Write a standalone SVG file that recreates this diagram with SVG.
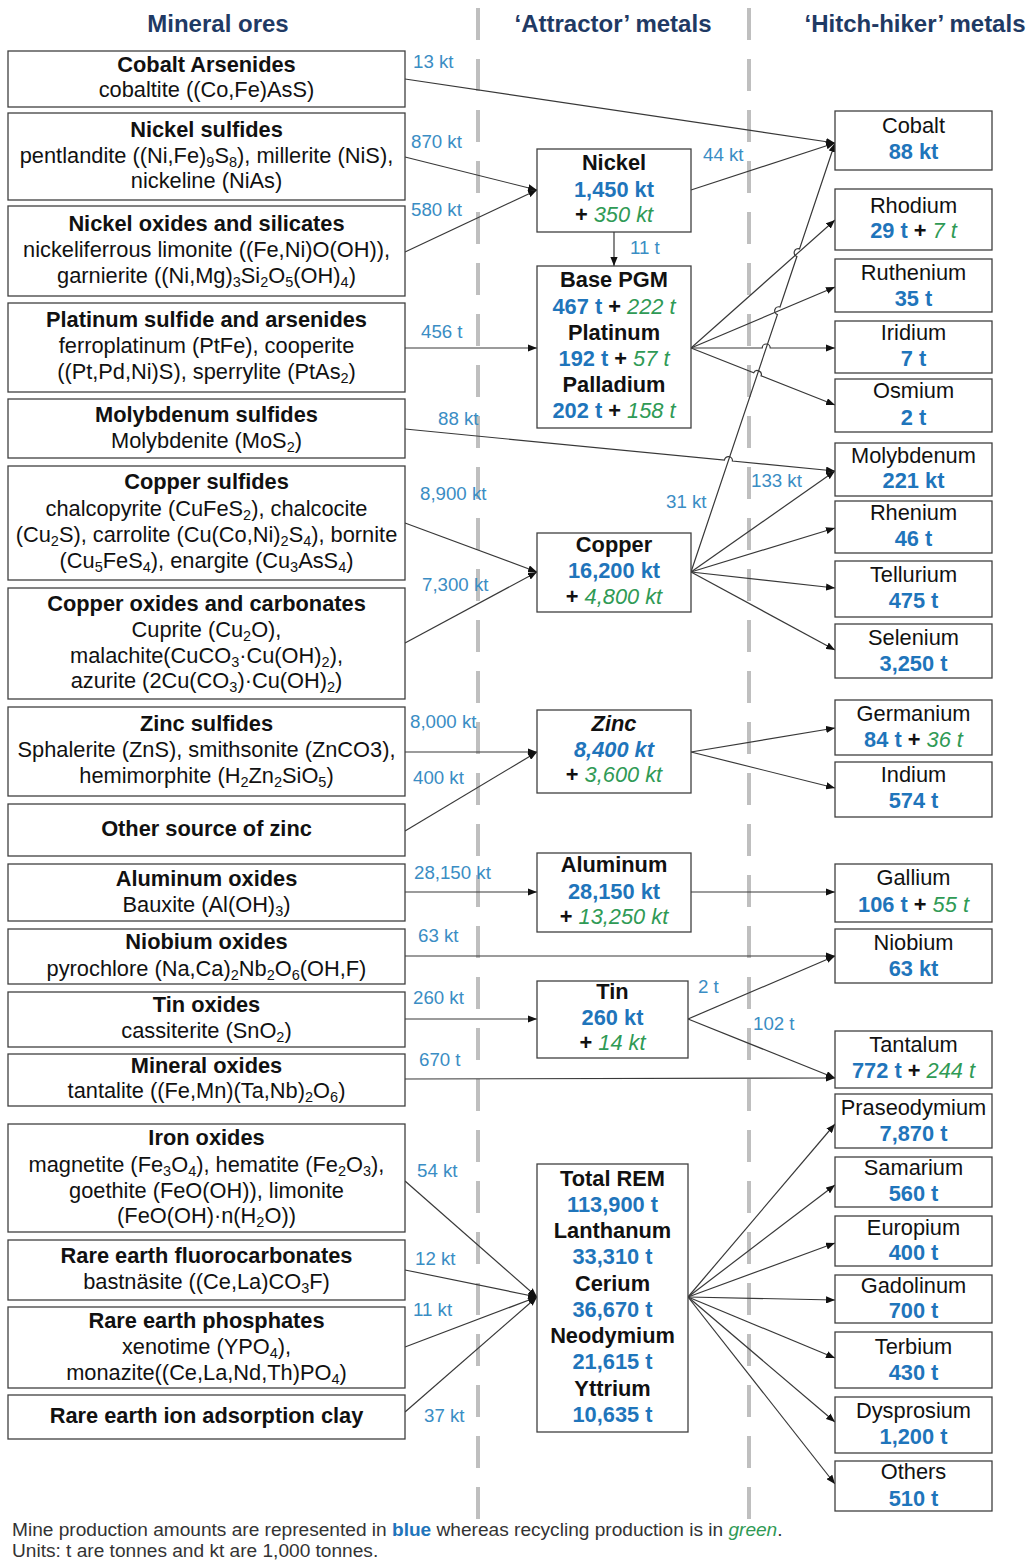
<svg xmlns="http://www.w3.org/2000/svg" width="1032" height="1561" viewBox="0 0 1032 1561">
<style>
text{font-family:"Liberation Sans",Arial,sans-serif}
.hd{font-size:24px;font-weight:bold;fill:#1f3a64;text-anchor:middle}
.box{fill:#fff;stroke:#404040;stroke-width:1.3}
.t{font-size:21.8px;text-anchor:middle;fill:#111}
.b{font-weight:bold}
.bi{font-weight:bold;font-style:italic}
.bl{font-weight:bold;fill:#1f75bb}
.gr{font-style:italic;font-weight:normal;fill:#2f9a55}
.s{font-size:14.5px;baseline-shift:-4px}
.lbl{font-size:18.7px;fill:#3a8dc4}
.dash{stroke:#bfbfbf;stroke-width:4;stroke-dasharray:32 19}
.c{fill:none;stroke:#383838;stroke-width:1.2;marker-end:url(#ah)}
.ft{font-size:19.1px;fill:#333}
</style>
<defs>
<marker id="ah" viewBox="0 0 10 8" refX="10" refY="4" markerWidth="9" markerHeight="7.2" markerUnits="userSpaceOnUse" orient="auto"><path d="M0,0 L10,4 L0,8 z" fill="#111"/></marker>
</defs>
<rect width="1032" height="1561" fill="#fff"/>
<g id="dividers">
<line class="dash" x1="478" y1="8" x2="478" y2="1519"/>
<line class="dash" x1="749" y1="8" x2="749" y2="1519"/>
</g>
<g id="headers">
<text class="hd" x="218" y="32">Mineral ores</text>
<text class="hd" x="613" y="32">‘Attractor’ metals</text>
<text class="hd" x="915" y="32">‘Hitch-hiker’ metals</text>
</g>
<g id="connectors">
<path class="c" d="M405,79 L835,143"/>
<path class="c" d="M405,157 L537,190"/>
<path class="c" d="M405,252 L537,190"/>
<path class="c" d="M691,190 L835,143"/>
<path class="c" d="M614,232 L614,266"/>
<path class="c" d="M405,348 L537,348"/>
<path class="c" d="M691,348 L835,220"/>
<path class="c" d="M691,348 L835,287"/>
<path class="c" d="M691,348 L762.2,348 A4,4 0 0 1 770.2,348 L835,348"/>
<path class="c" d="M691,348 L753.7,372.8 A4,4 0 0 1 761.1,375.8 L835,405"/>
<path class="c" d="M405,429 L724.4,460.2 A4,4 0 0 1 732.4,461 L835,471"/>
<path class="c" d="M405,523 L537,572"/>
<path class="c" d="M405,643 L537,572"/>
<path class="c" d="M691,572 L777.4,314.6 A4,4 0 0 1 780,307 L796.9,256.5 A4,4 0 0 1 799.5,248.9 L835,143"/>
<path class="c" d="M691,572 L835,471"/>
<path class="c" d="M691,572 L835,528"/>
<path class="c" d="M691,572 L835,588"/>
<path class="c" d="M691,572 L835,650"/>
<path class="c" d="M405,752 L537,752"/>
<path class="c" d="M405,831 L537,752"/>
<path class="c" d="M691,752 L835,728"/>
<path class="c" d="M691,752 L835,788"/>
<path class="c" d="M405,892 L537,892"/>
<path class="c" d="M691,892 L835,892"/>
<path class="c" d="M405,956 L835,956"/>
<path class="c" d="M405,1019 L537,1019"/>
<path class="c" d="M688,1019 L835,956"/>
<path class="c" d="M688,1019 L835,1078"/>
<path class="c" d="M405,1079 L835,1078"/>
<path class="c" d="M405,1181 L537,1297"/>
<path class="c" d="M405,1270 L537,1297"/>
<path class="c" d="M405,1347 L537,1297"/>
<path class="c" d="M405,1412 L537,1297"/>
<path class="c" d="M688,1297 L835,1124"/>
<path class="c" d="M688,1297 L835,1185"/>
<path class="c" d="M688,1297 L835,1243"/>
<path class="c" d="M688,1297 L835,1300"/>
<path class="c" d="M688,1297 L835,1358"/>
<path class="c" d="M688,1297 L835,1422"/>
<path class="c" d="M688,1297 L835,1484"/>
</g>
<g id="connector-labels">
<text class="lbl" x="413" y="68">13 kt</text>
<text class="lbl" x="411" y="148">870 kt</text>
<text class="lbl" x="411" y="216">580 kt</text>
<text class="lbl" x="703" y="161">44 kt</text>
<text class="lbl" x="630" y="254">11 t</text>
<text class="lbl" x="421" y="338">456 t</text>
<text class="lbl" x="438" y="425">88 kt</text>
<text class="lbl" x="420" y="500">8,900 kt</text>
<text class="lbl" x="422" y="591">7,300 kt</text>
<text class="lbl" x="666" y="508">31 kt</text>
<text class="lbl" x="751" y="487">133 kt</text>
<text class="lbl" x="410" y="728">8,000 kt</text>
<text class="lbl" x="413" y="784">400 kt</text>
<text class="lbl" x="414" y="879">28,150 kt</text>
<text class="lbl" x="418" y="942">63 kt</text>
<text class="lbl" x="413" y="1004">260 kt</text>
<text class="lbl" x="419" y="1066">670 t</text>
<text class="lbl" x="698" y="993">2 t</text>
<text class="lbl" x="753" y="1030">102 t</text>
<text class="lbl" x="417" y="1177">54 kt</text>
<text class="lbl" x="415" y="1265">12 kt</text>
<text class="lbl" x="413" y="1316">11 kt</text>
<text class="lbl" x="424" y="1422">37 kt</text>
</g>
<g id="ore-cobalt-arsenides"><rect class="box" x="8" y="51" width="397" height="56"/>
<text class="t b" x="206.5" y="72">Cobalt Arsenides</text>
<text class="t" x="206.5" y="97">cobaltite ((Co,Fe)AsS)</text></g>
<g id="ore-nickel-sulfides"><rect class="box" x="8" y="113" width="397" height="87"/>
<text class="t b" x="206.5" y="137">Nickel sulfides</text>
<text class="t" x="206.5" y="163">pentlandite ((Ni,Fe)<tspan class="s">9</tspan>S<tspan class="s">8</tspan>), millerite (NiS),</text>
<text class="t" x="206.5" y="188">nickeline (NiAs)</text></g>
<g id="ore-nickel-oxides"><rect class="box" x="8" y="206" width="397" height="90"/>
<text class="t b" x="206.5" y="231">Nickel oxides and silicates</text>
<text class="t" x="206.5" y="257">nickeliferrous limonite ((Fe,Ni)O(OH)),</text>
<text class="t" x="206.5" y="283">garnierite ((Ni,Mg)<tspan class="s">3</tspan>Si<tspan class="s">2</tspan>O<tspan class="s">5</tspan>(OH)<tspan class="s">4</tspan>)</text></g>
<g id="ore-platinum"><rect class="box" x="8" y="303" width="397" height="89"/>
<text class="t b" x="206.5" y="327">Platinum sulfide and arsenides</text>
<text class="t" x="206.5" y="353">ferroplatinum (PtFe), cooperite</text>
<text class="t" x="206.5" y="379">((Pt,Pd,Ni)S), sperrylite (PtAs<tspan class="s">2</tspan>)</text></g>
<g id="ore-molybdenum"><rect class="box" x="8" y="399" width="397" height="59"/>
<text class="t b" x="206.5" y="422">Molybdenum sulfides</text>
<text class="t" x="206.5" y="448">Molybdenite (MoS<tspan class="s">2</tspan>)</text></g>
<g id="ore-copper-sulfides"><rect class="box" x="8" y="466" width="397" height="114"/>
<text class="t b" x="206.5" y="489">Copper sulfides</text>
<text class="t" x="206.5" y="516">chalcopyrite (CuFeS<tspan class="s">2</tspan>), chalcocite</text>
<text class="t" x="206.5" y="542">(Cu<tspan class="s">2</tspan>S), carrolite (Cu(Co,Ni)<tspan class="s">2</tspan>S<tspan class="s">4</tspan>), bornite</text>
<text class="t" x="206.5" y="568">(Cu<tspan class="s">5</tspan>FeS<tspan class="s">4</tspan>), enargite (Cu<tspan class="s">3</tspan>AsS<tspan class="s">4</tspan>)</text></g>
<g id="ore-copper-oxides"><rect class="box" x="8" y="588" width="397" height="111"/>
<text class="t b" x="206.5" y="611">Copper oxides and carbonates</text>
<text class="t" x="206.5" y="637">Cuprite (Cu<tspan class="s">2</tspan>O),</text>
<text class="t" x="206.5" y="663">malachite(CuCO<tspan class="s">3</tspan>·Cu(OH)<tspan class="s">2</tspan>),</text>
<text class="t" x="206.5" y="688">azurite (2Cu(CO<tspan class="s">3</tspan>)·Cu(OH)<tspan class="s">2</tspan>)</text></g>
<g id="ore-zinc-sulfides"><rect class="box" x="8" y="707" width="397" height="89"/>
<text class="t b" x="206.5" y="731">Zinc sulfides</text>
<text class="t" x="206.5" y="757">Sphalerite (ZnS), smithsonite (ZnCO3),</text>
<text class="t" x="206.5" y="783">hemimorphite (H<tspan class="s">2</tspan>Zn<tspan class="s">2</tspan>SiO<tspan class="s">5</tspan>)</text></g>
<g id="ore-other-zinc"><rect class="box" x="8" y="804" width="397" height="52"/>
<text class="t b" x="206.5" y="836">Other source of zinc</text></g>
<g id="ore-aluminum"><rect class="box" x="8" y="864" width="397" height="57"/>
<text class="t b" x="206.5" y="886">Aluminum oxides</text>
<text class="t" x="206.5" y="912">Bauxite (Al(OH)<tspan class="s">3</tspan>)</text></g>
<g id="ore-niobium"><rect class="box" x="8" y="929" width="397" height="55"/>
<text class="t b" x="206.5" y="949">Niobium oxides</text>
<text class="t" x="206.5" y="976">pyrochlore (Na,Ca)<tspan class="s">2</tspan>Nb<tspan class="s">2</tspan>O<tspan class="s">6</tspan>(OH,F)</text></g>
<g id="ore-tin"><rect class="box" x="8" y="992" width="397" height="55"/>
<text class="t b" x="206.5" y="1012">Tin oxides</text>
<text class="t" x="206.5" y="1038">cassiterite (SnO<tspan class="s">2</tspan>)</text></g>
<g id="ore-mineral-oxides"><rect class="box" x="8" y="1054" width="397" height="52"/>
<text class="t b" x="206.5" y="1073">Mineral oxides</text>
<text class="t" x="206.5" y="1098">tantalite ((Fe,Mn)(Ta,Nb)<tspan class="s">2</tspan>O<tspan class="s">6</tspan>)</text></g>
<g id="ore-iron"><rect class="box" x="8" y="1124" width="397" height="108"/>
<text class="t b" x="206.5" y="1145">Iron oxides</text>
<text class="t" x="206.5" y="1172">magnetite (Fe<tspan class="s">3</tspan>O<tspan class="s">4</tspan>), hematite (Fe<tspan class="s">2</tspan>O<tspan class="s">3</tspan>),</text>
<text class="t" x="206.5" y="1198">goethite (FeO(OH)), limonite</text>
<text class="t" x="206.5" y="1223">(FeO(OH)·n(H<tspan class="s">2</tspan>O))</text></g>
<g id="ore-re-fluoro"><rect class="box" x="8" y="1240" width="397" height="60"/>
<text class="t b" x="206.5" y="1263">Rare earth fluorocarbonates</text>
<text class="t" x="206.5" y="1289">bastnäsite ((Ce,La)CO<tspan class="s">3</tspan>F)</text></g>
<g id="ore-re-phosphates"><rect class="box" x="8" y="1307" width="397" height="81"/>
<text class="t b" x="206.5" y="1328">Rare earth phosphates</text>
<text class="t" x="206.5" y="1354">xenotime (YPO<tspan class="s">4</tspan>),</text>
<text class="t" x="206.5" y="1380">monazite((Ce,La,Nd,Th)PO<tspan class="s">4</tspan>)</text></g>
<g id="ore-re-clay"><rect class="box" x="8" y="1395" width="397" height="44"/>
<text class="t b" x="206.5" y="1423">Rare earth ion adsorption clay</text></g>
<g id="att-nickel"><rect class="box" x="537" y="149" width="154" height="83"/>
<text class="t b" x="614" y="170">Nickel</text>
<text class="t bl" x="614" y="197">1,450 kt</text>
<text class="t" x="614" y="222"><tspan class="b">+ </tspan><tspan class="gr">350 kt</tspan></text></g>
<g id="att-pgm"><rect class="box" x="537" y="266" width="154" height="162"/>
<text class="t b" x="614" y="287">Base PGM</text>
<text class="t" x="614" y="314"><tspan class="bl">467 t</tspan><tspan class="b"> + </tspan><tspan class="gr">222 t</tspan></text>
<text class="t b" x="614" y="340">Platinum</text>
<text class="t" x="614" y="366"><tspan class="bl">192 t</tspan><tspan class="b"> + </tspan><tspan class="gr">57 t</tspan></text>
<text class="t b" x="614" y="392">Palladium</text>
<text class="t" x="614" y="418"><tspan class="bl">202 t</tspan><tspan class="b"> + </tspan><tspan class="gr">158 t</tspan></text></g>
<g id="att-copper"><rect class="box" x="537" y="533" width="154" height="79"/>
<text class="t b" x="614" y="552">Copper</text>
<text class="t bl" x="614" y="578">16,200 kt</text>
<text class="t" x="614" y="604"><tspan class="b">+ </tspan><tspan class="gr">4,800 kt</tspan></text></g>
<g id="att-zinc"><rect class="box" x="537" y="710" width="154" height="83"/>
<text class="t bi" x="614" y="731">Zinc</text>
<text class="t bl bi" x="614" y="757">8,400 kt</text>
<text class="t" x="614" y="782"><tspan class="b">+ </tspan><tspan class="gr">3,600 kt</tspan></text></g>
<g id="att-aluminum"><rect class="box" x="537" y="853" width="154" height="79"/>
<text class="t b" x="614" y="872">Aluminum</text>
<text class="t bl" x="614" y="899">28,150 kt</text>
<text class="t" x="614" y="924"><tspan class="b">+ </tspan><tspan class="gr">13,250 kt</tspan></text></g>
<g id="att-tin"><rect class="box" x="537" y="981" width="151" height="77"/>
<text class="t b" x="612.5" y="999">Tin</text>
<text class="t bl" x="612.5" y="1025">260 kt</text>
<text class="t" x="612.5" y="1050"><tspan class="b">+ </tspan><tspan class="gr">14 kt</tspan></text></g>
<g id="att-rem"><rect class="box" x="537" y="1164" width="151" height="268"/>
<text class="t b" x="612.5" y="1186">Total REM</text>
<text class="t bl" x="612.5" y="1212">113,900 t</text>
<text class="t b" x="612.5" y="1238">Lanthanum</text>
<text class="t bl" x="612.5" y="1264">33,310 t</text>
<text class="t b" x="612.5" y="1291">Cerium</text>
<text class="t bl" x="612.5" y="1317">36,670 t</text>
<text class="t b" x="612.5" y="1343">Neodymium</text>
<text class="t bl" x="612.5" y="1369">21,615 t</text>
<text class="t b" x="612.5" y="1396">Yttrium</text>
<text class="t bl" x="612.5" y="1422">10,635 t</text></g>
<g id="hh-cobalt"><rect class="box" x="835" y="111" width="157" height="59"/>
<text class="t" x="913.5" y="133">Cobalt</text><text class="t bl" x="913.5" y="159">88 kt</text></g>
<g id="hh-rhodium"><rect class="box" x="835" y="189" width="157" height="61"/>
<text class="t" x="913.5" y="213">Rhodium</text>
<text class="t" x="913.5" y="238"><tspan class="bl">29 t</tspan><tspan class="b"> + </tspan><tspan class="gr">7 t</tspan></text></g>
<g id="hh-ruthenium"><rect class="box" x="835" y="259" width="157" height="53"/>
<text class="t" x="913.5" y="280">Ruthenium</text><text class="t bl" x="913.5" y="306">35 t</text></g>
<g id="hh-iridium"><rect class="box" x="835" y="321" width="157" height="52"/>
<text class="t" x="913.5" y="340">Iridium</text><text class="t bl" x="913.5" y="366">7 t</text></g>
<g id="hh-osmium"><rect class="box" x="835" y="379" width="157" height="53"/>
<text class="t" x="913.5" y="398">Osmium</text><text class="t bl" x="913.5" y="425">2 t</text></g>
<g id="hh-molybdenum"><rect class="box" x="835" y="443" width="157" height="53"/>
<text class="t" x="913.5" y="463">Molybdenum</text><text class="t bl" x="913.5" y="488">221 kt</text></g>
<g id="hh-rhenium"><rect class="box" x="835" y="501" width="157" height="52"/>
<text class="t" x="913.5" y="520">Rhenium</text><text class="t bl" x="913.5" y="546">46 t</text></g>
<g id="hh-tellurium"><rect class="box" x="835" y="561" width="157" height="56"/>
<text class="t" x="913.5" y="582">Tellurium</text><text class="t bl" x="913.5" y="608">475 t</text></g>
<g id="hh-selenium"><rect class="box" x="835" y="624" width="157" height="54"/>
<text class="t" x="913.5" y="645">Selenium</text><text class="t bl" x="913.5" y="671">3,250 t</text></g>
<g id="hh-germanium"><rect class="box" x="835" y="700" width="157" height="55"/>
<text class="t" x="913.5" y="721">Germanium</text>
<text class="t" x="913.5" y="747"><tspan class="bl">84 t</tspan><tspan class="b"> + </tspan><tspan class="gr">36 t</tspan></text></g>
<g id="hh-indium"><rect class="box" x="835" y="762" width="157" height="55"/>
<text class="t" x="913.5" y="782">Indium</text><text class="t bl" x="913.5" y="808">574 t</text></g>
<g id="hh-gallium"><rect class="box" x="835" y="864" width="157" height="58"/>
<text class="t" x="913.5" y="885">Gallium</text>
<text class="t" x="913.5" y="912"><tspan class="bl">106 t</tspan><tspan class="b"> + </tspan><tspan class="gr">55 t</tspan></text></g>
<g id="hh-niobium"><rect class="box" x="835" y="929" width="157" height="54"/>
<text class="t" x="913.5" y="950">Niobium</text><text class="t bl" x="913.5" y="976">63 kt</text></g>
<g id="hh-tantalum"><rect class="box" x="835" y="1031" width="157" height="57"/>
<text class="t" x="913.5" y="1052">Tantalum</text>
<text class="t" x="913.5" y="1078"><tspan class="bl">772 t</tspan><tspan class="b"> + </tspan><tspan class="gr">244 t</tspan></text></g>
<g id="hh-praseodymium"><rect class="box" x="835" y="1094" width="157" height="54"/>
<text class="t" x="913.5" y="1115">Praseodymium</text><text class="t bl" x="913.5" y="1141">7,870 t</text></g>
<g id="hh-samarium"><rect class="box" x="835" y="1157" width="157" height="50"/>
<text class="t" x="913.5" y="1175">Samarium</text><text class="t bl" x="913.5" y="1201">560 t</text></g>
<g id="hh-europium"><rect class="box" x="835" y="1216" width="157" height="50"/>
<text class="t" x="913.5" y="1235">Europium</text><text class="t bl" x="913.5" y="1260">400 t</text></g>
<g id="hh-gadolinum"><rect class="box" x="835" y="1275" width="157" height="48"/>
<text class="t" x="913.5" y="1293">Gadolinum</text><text class="t bl" x="913.5" y="1318">700 t</text></g>
<g id="hh-terbium"><rect class="box" x="835" y="1332" width="157" height="56"/>
<text class="t" x="913.5" y="1354">Terbium</text><text class="t bl" x="913.5" y="1380">430 t</text></g>
<g id="hh-dysprosium"><rect class="box" x="835" y="1397" width="157" height="56"/>
<text class="t" x="913.5" y="1418">Dysprosium</text><text class="t bl" x="913.5" y="1444">1,200 t</text></g>
<g id="hh-others"><rect class="box" x="835" y="1461" width="157" height="50"/>
<text class="t" x="913.5" y="1479">Others</text><text class="t bl" x="913.5" y="1506">510 t</text></g>
<g id="footer">
<text class="ft" x="12" y="1536">Mine production amounts are represented in <tspan class="bl">blue</tspan> whereas recycling production is in <tspan class="gr">green</tspan>.</text>
<text class="ft" x="12" y="1557">Units: t are tonnes and kt are 1,000 tonnes.</text>
</g>
</svg>
